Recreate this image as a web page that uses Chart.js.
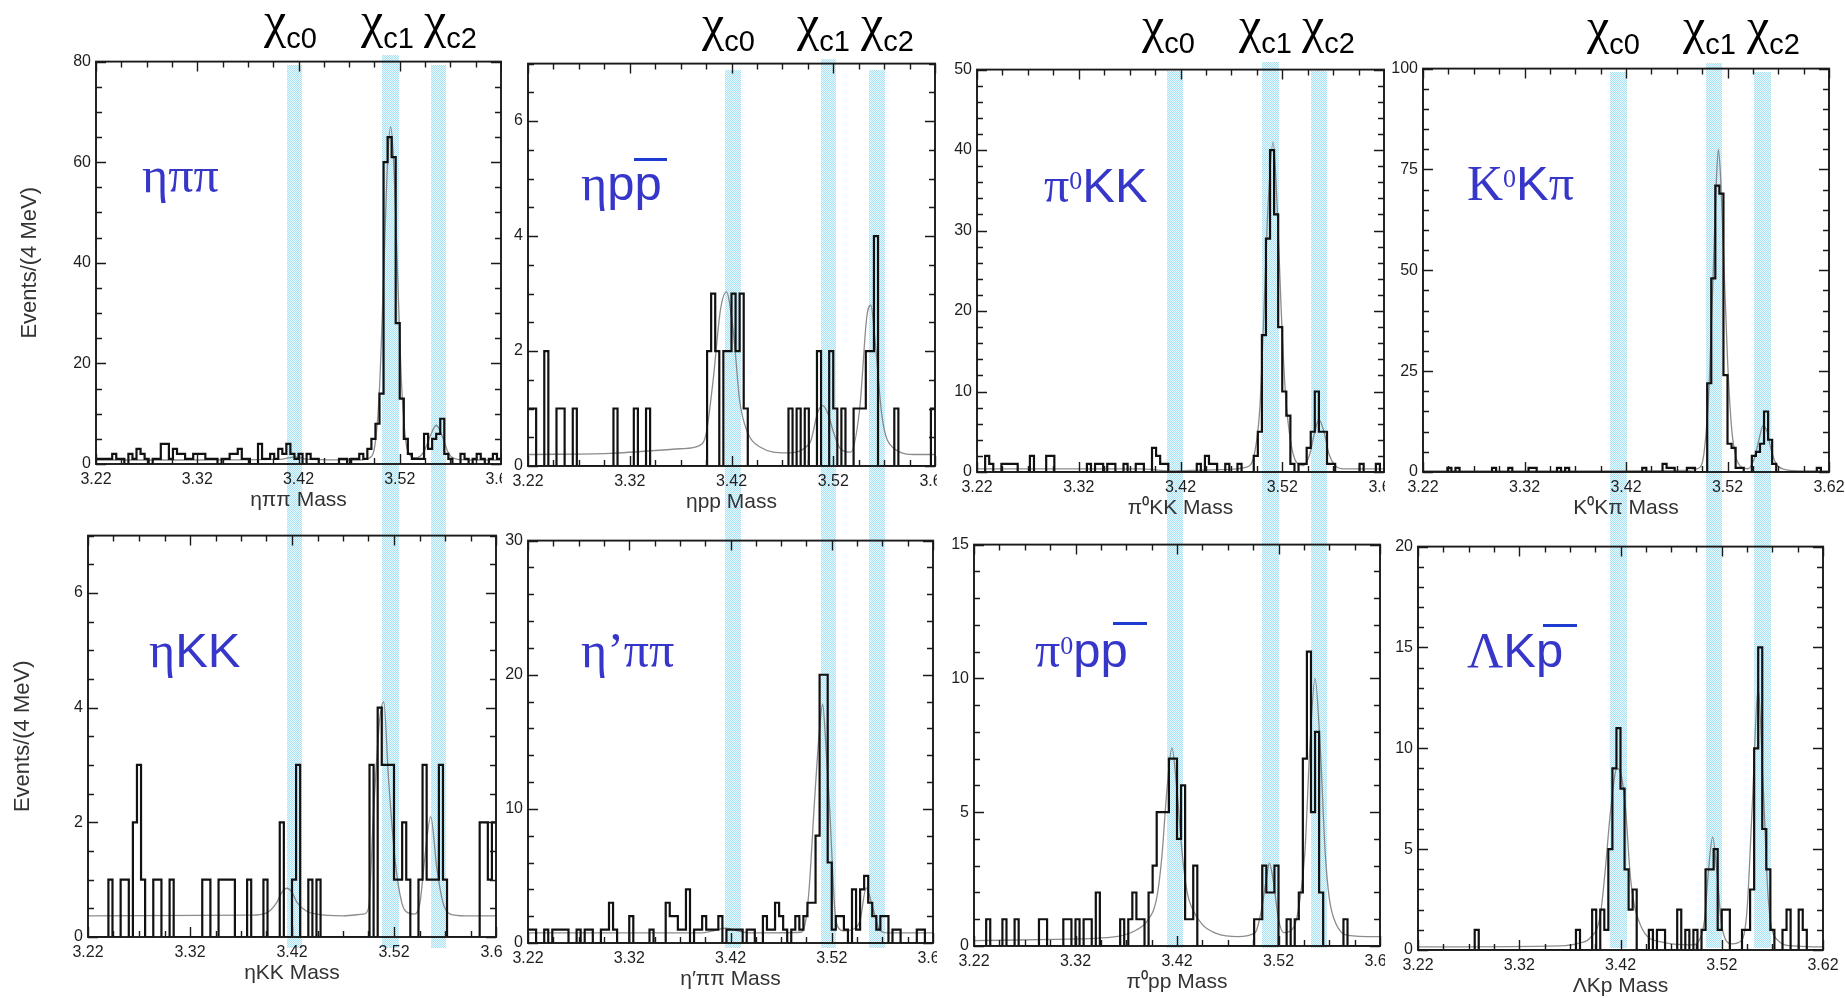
<!DOCTYPE html>
<html><head><meta charset="utf-8">
<script src="https://cdn.jsdelivr.net/npm/chart.js@4.4.1/dist/chart.umd.min.js"></script>
<style>
html,body{margin:0;padding:0;background:#fff;}
body{width:1845px;height:998px;position:relative;overflow:hidden;font-family:"Liberation Sans",Arial,sans-serif;}
canvas{position:absolute;}
#bands{left:0;top:0;z-index:0;}
.chart{z-index:1;}
.lbl{position:absolute;z-index:2;color:#3636c9;white-space:nowrap;line-height:1;font-family:"Liberation Serif","Times New Roman",serif;font-size:50px;}
.sans{font-family:"Liberation Sans",Arial,sans-serif;font-size:49px;}
.sup{font-family:"Liberation Serif","Times New Roman",serif;font-size:26px;vertical-align:13px;}
.chi{position:absolute;z-index:2;white-space:nowrap;line-height:1;color:#000;font-family:"Liberation Serif","Times New Roman",serif;font-size:50px;}
.chi span{font-family:"Liberation Sans",Arial,sans-serif;font-size:29px;vertical-align:-11px;}
.bar{position:absolute;z-index:2;height:3px;background:#1d3ccf;}
</style></head><body>
<canvas id="bands" width="1845" height="998"></canvas>

<div class="chi" style="left:264px;top:-5px">χ<span>c0</span></div>
<div class="chi" style="left:361px;top:-5px">χ<span>c1</span></div>
<div class="chi" style="left:424px;top:-5px">χ<span>c2</span></div>
<div class="chi" style="left:702px;top:-2px">χ<span>c0</span></div>
<div class="chi" style="left:797px;top:-2px">χ<span>c1</span></div>
<div class="chi" style="left:861px;top:-2px">χ<span>c2</span></div>
<div class="chi" style="left:1142px;top:0px">χ<span>c0</span></div>
<div class="chi" style="left:1239px;top:0px">χ<span>c1</span></div>
<div class="chi" style="left:1302px;top:0px">χ<span>c2</span></div>
<div class="chi" style="left:1587px;top:1px">χ<span>c0</span></div>
<div class="chi" style="left:1683px;top:1px">χ<span>c1</span></div>
<div class="chi" style="left:1747px;top:1px">χ<span>c2</span></div>

<div class="lbl" style="left:142px;top:150px">ηππ</div>
<div class="lbl" style="left:581px;top:158px">η<span class="sans">pp</span></div>
<div class="bar" style="left:634px;top:158px;width:33px"></div>
<div class="lbl" style="left:1044px;top:160px">π<span class="sup">0</span><span class="sans">KK</span></div>
<div class="lbl" style="left:1467px;top:158px">K<span class="sup">0</span><span class="sans">K</span>π</div>
<div class="lbl" style="left:149px;top:625px">η<span class="sans">KK</span></div>
<div class="lbl" style="left:581px;top:625px">η’ππ</div>
<div class="lbl" style="left:1035px;top:625px">π<span class="sup">0</span><span class="sans">pp</span></div>
<div class="bar" style="left:1113px;top:622px;width:34px"></div>
<div class="lbl" style="left:1467px;top:625px">Λ<span class="sans">Kp</span></div>
<div class="bar" style="left:1543px;top:624px;width:34px"></div>

<script>
// ---------------- DATA ----------------
const binStart = 3.22;
const binWidth = 0.004;
const massTicks = [3.22, 3.32, 3.42, 3.52, 3.62];
const massLabels = ['3.22', '3.32', '3.42', '3.52', '3.62'];
const massMinorStep = 0.025;

// Events per 4 MeV bin, 3.22 - 3.62 GeV (100 bins)
const etaPiPi = [1,1,1,1,2,1,1,0,2,1, 3,2,1,0,1,1,4,4,1,3, 2,2,1,1,2,2,2,1,1,1, 0,1,1,2,2,3,1,1,0,0,
  4,1,1,2,1,3,2,4,2,1, 2,0,2,1,1,0,0,0,0,0, 1,1,0,1,1,2,1,3,5,8, 14,60,65,61,28,13,5,2,1,1,
  1,6,3,5,6,9,2,1,0,0, 2,1,0,1,2,1,0,1,2,1];
const etaPPbar = [1,1,0,0,2,0,0,1,1,0, 0,1,0,0,0,0,0,0,0,0, 0,1,0,0,0,0,1,0,0,1, 0,0,0,0,0,0,0,0,0,0,
  0,0,0,0,2,3,2,0,2,2, 3,2,3,1,0,0,0,0,0,0, 0,0,0,0,1,0,1,0,1,0, 0,2,0,0,2,1,0,1,0,0,
  1,1,1,2,2,4,0,0,0,0, 1,0,0,0,0,0,0,0,0,1];
const pi0KK = [0,0,2,1,0,0,1,1,1,1, 0,0,0,2,0,0,0,2,2,0, 0,0,0,0,0,0,0,1,0,1, 1,0,1,1,0,0,1,0,0,1,
  1,0,0,3,2,1,1,0,0,0, 0,0,0,0,1,0,2,1,1,0, 0,1,0,0,1,0,0,0,2,5, 17,29,40,32,18,10,7,1,0,1,
  1,3,5,10,5,5,1,1,0,0, 0,0,0,0,1,0,0,0,1,0];
const k0KPi = [0,0,0,0,0,0,1,0,1,0, 0,0,0,0,0,0,0,1,0,0, 0,1,0,0,0,0,1,1,0,0, 0,0,0,1,0,1,0,0,0,0,
  0,0,0,0,0,0,0,0,0,0, 0,0,0,0,1,0,0,0,0,2, 1,1,0,0,0,1,1,0,0,0, 22,48,71,69,24,7,6,1,1,0,
  0,4,5,7,15,8,2,0,0,0, 0,0,0,0,0,0,0,1,0,0];
const etaKK = [0,0,0,0,0,1,0,0,1,1, 0,2,3,1,0,0,1,1,0,0, 1,0,0,0,0,0,0,0,1,1, 0,0,1,1,1,1,0,0,0,1,
  0,0,0,1,0,0,0,2,0,0, 1,3,0,0,1,0,1,0,0,0, 0,0,0,0,0,0,0,0,0,3, 0,4,3,3,3,1,1,2,1,0,
  0,1,3,1,1,1,3,1,0,0, 0,0,0,0,0,0,2,2,1,2];
const etaPrimePiPi = [1,1,0,0,1,0,1,1,1,1, 0,0,1,0,1,1,0,0,1,1, 3,1,0,0,0,2,0,0,0,0, 1,0,0,0,3,2,2,1,1,4,
  0,1,1,2,1,1,1,2,0,1, 1,1,1,0,1,1,0,0,2,1, 1,3,2,1,0,1,2,1,2,3, 3,8,20,20,6,1,2,2,1,0,
  4,1,4,5,3,2,1,2,2,0, 1,1,0,0,0,0,1,1,0,0];
const pi0PPbar = [0,0,0,1,0,0,0,1,0,0, 1,0,0,0,0,0,1,1,0,0, 0,0,1,1,0,1,0,1,1,0, 2,0,0,0,0,0,1,0,1,2,
  1,1,0,2,3,5,5,5,7,7, 4,6,1,1,3,0,0,0,0,0, 0,0,0,0,0,0,0,0,0,1, 1,3,2,2,3,0,0,1,0,1,
  2,7,11,5,8,2,0,0,0,0, 0,1,0,0,0,0,0,0,0,0];
const lambdaKPbar = [0,0,0,0,0,0,0,0,0,0, 0,0,0,0,1,0,0,0,0,0, 0,0,0,0,0,0,0,0,0,0, 0,0,0,0,0,0,0,0,0,1,
  0,0,0,2,0,2,1,5,9,11, 8,4,2,3,0,0,0,1,0,1, 1,0,0,0,2,0,1,0,1,0, 1,4,4,5,1,2,2,0,0,0,
  1,1,3,10,15,6,4,1,0,0, 1,2,0,0,2,1,0,0,0,0];

// Fit curves (mass, events)
const fitEtaPiPiX = [3.22,3.30,3.40,3.41,3.416,3.422,3.43,3.48,3.49,3.496,3.500,3.504,3.508,3.511,3.514,3.518,3.522,3.526,3.530,3.536,3.544,3.550,3.556,3.562,3.568,3.575,3.59,3.62];
const fitEtaPiPiY = [0.8,0.8,0.9,1.2,1.4,1.2,0.9,0.8,1.2,4.5,15,37,60,67,60,37,15,4.5,1.8,1.2,2.5,5.5,7.7,5.5,2.2,1.0,0.8,0.8];
const fitEtaPPbarX = [3.22,3.30,3.37,3.389,3.395,3.402,3.409,3.415,3.422,3.428,3.435,3.448,3.474,3.497,3.505,3.510,3.515,3.520,3.527,3.537,3.546,3.553,3.557,3.561,3.568,3.578,3.602,3.62];
const fitEtaPPbarY = [0.2,0.22,0.3,0.36,0.56,1.5,2.7,3.03,2.3,1.14,0.62,0.33,0.23,0.4,0.95,1.05,0.9,0.6,0.3,0.24,1.0,2.6,2.8,2.2,0.85,0.33,0.2,0.2];
const fitPi0KKX = [3.22,3.38,3.41,3.43,3.46,3.485,3.493,3.498,3.502,3.506,3.511,3.515,3.519,3.523,3.528,3.534,3.541,3.547,3.552,3.556,3.561,3.566,3.572,3.58,3.62];
const fitPi0KKY = [0.4,0.4,0.15,0.2,0.3,0.6,2.5,8,20,33,41,33,20,10,4,1.2,0.8,2.2,5,6.5,5,2.2,0.8,0.4,0.4];
const fitK0KPiX = [3.22,3.40,3.48,3.492,3.497,3.502,3.506,3.509,3.511,3.513,3.516,3.52,3.524,3.528,3.534,3.54,3.546,3.551,3.555,3.559,3.563,3.568,3.575,3.59,3.62];
const fitK0KPiY = [0.3,0.3,0.4,1,5,22,50,72,80,74,55,28,11,4,1.2,0.8,3,8,11.5,10,5.5,2,0.7,0.3,0.3];
const fitEtaKKX = [3.22,3.38,3.395,3.405,3.41,3.415,3.42,3.425,3.4345,3.444,3.47,3.49,3.495,3.500,3.506,3.510,3.5145,3.521,3.5276,3.534,3.54,3.5455,3.55,3.556,3.562,3.568,3.575,3.59,3.62];
const fitEtaKKY = [0.37,0.38,0.42,0.6,0.78,0.85,0.78,0.6,0.45,0.4,0.37,0.4,0.5,2.2,3.8,4.1,2.8,1.35,0.6,0.42,0.4,0.6,1.35,2.1,1.2,0.6,0.4,0.37,0.37];
const fitEtaPrimePiPiX = [3.22,3.39,3.405,3.415,3.425,3.44,3.49,3.495,3.498,3.503,3.508,3.511,3.514,3.518,3.523,3.526,3.532,3.54,3.548,3.554,3.561,3.567,3.575,3.62];
const fitEtaPrimePiPiY = [0.75,0.75,0.95,1.1,0.95,0.75,0.8,2,4.4,10.6,16,17.8,15,9.9,2.5,1.2,0.9,1.0,1.7,4.1,2.5,1.0,0.75,0.75];
const fitPi0PPbarX = [3.22,3.30,3.36,3.38,3.39,3.40,3.405,3.41,3.415,3.42,3.425,3.43,3.435,3.445,3.46,3.48,3.497,3.503,3.508,3.511,3.515,3.52,3.525,3.535,3.541,3.546,3.551,3.556,3.561,3.566,3.570,3.577,3.588,3.62];
const fitPi0PPbarY = [0.2,0.25,0.35,0.6,0.9,1.8,3.3,5.8,7.4,5.8,3.5,2.0,1.4,0.8,0.45,0.35,0.5,1.3,2.5,3.1,2.4,1.0,0.5,0.7,1.7,3.5,7.5,10,7.5,3.5,1.8,0.8,0.4,0.35];
const fitLambdaKPbarX = [3.22,3.36,3.38,3.39,3.40,3.405,3.41,3.4165,3.42,3.425,3.43,3.44,3.46,3.49,3.498,3.503,3.507,3.511,3.515,3.52,3.53,3.54,3.545,3.55,3.556,3.561,3.566,3.575,3.59,3.62];
const fitLambdaKPbarY = [0.15,0.2,0.35,0.6,1.7,4,6.8,9,8.8,7,3.5,1.2,0.4,0.25,0.5,1.5,4,5.6,4,1.2,0.3,0.5,2,7,13,8,2.5,0.5,0.2,0.15];

// y axis: labelled ticks, minor tick step
const yTicksEtaPiPi = [0,20,40,60,80];
const yTicksEtaPPbar = [0,2,4,6];
const yTicksPi0KK = [0,10,20,30,40,50];
const yTicksK0KPi = [0,25,50,75,100];
const yTicksEtaKK = [0,2,4,6];
const yTicksEtaPrimePiPi = [0,10,20,30];
const yTicksPi0PPbar = [0,5,10,15];
const yTicksLambdaKPbar = [0,5,10,15,20];
const yMaxes = [80,7,50,100,7,30,15,20];
const yMinorSteps = [5,0.5,2,5,0.5,2,1,1];

const massTitles = ['ηππ Mass','ηpp Mass','π⁰KK Mass','K⁰Kπ Mass','ηKK Mass','η′ππ Mass','π⁰pp Mass','ΛKp Mass'];
const yAxisTitle = 'Events/(4 MeV)';

// chi_cJ bands (mass ranges), one set per column
const bandRanges = [
  [[3.4086,3.4235],[3.5025,3.5193],[3.5509,3.5657]],
  [[3.4136,3.4290],[3.5080,3.5227],[3.5554,3.5710]],
  [[3.4064,3.4217],[3.5001,3.5171],[3.5480,3.5637]],
  [[3.4042,3.4207],[3.4989,3.5149],[3.5461,3.5626]]
];

// ---------------- LAYOUT ----------------
const plotRects = [
  [96,59,501,464],[528,61,935,466],[977,67,1384,472],[1423,66,1829,472],
  [88,533,496,937],[528,538,933,943],[974,542,1380,946],[1418,544,1823,950]
];
// right margin of each panel (panels that sit next to another panel are cut off close to their frame)
const rightMargins = [1,2,1,15,6,4,5,20];
const bandTops = [[65,55,65],[70,59,70],[71,62,71],[72,63,72]];
const bandBottom = 948;

const panels = [
  {counts: etaPiPi, fx: fitEtaPiPiX, fy: fitEtaPiPiY, yTicks: yTicksEtaPiPi, yTitlePad: 17},
  {counts: etaPPbar, fx: fitEtaPPbarX, fy: fitEtaPPbarY, yTicks: yTicksEtaPPbar},
  {counts: pi0KK, fx: fitPi0KKX, fy: fitPi0KKY, yTicks: yTicksPi0KK},
  {counts: k0KPi, fx: fitK0KPiX, fy: fitK0KPiY, yTicks: yTicksK0KPi},
  {counts: etaKK, fx: fitEtaKKX, fy: fitEtaKKY, yTicks: yTicksEtaKK, yTitlePad: 10},
  {counts: etaPrimePiPi, fx: fitEtaPrimePiPiX, fy: fitEtaPrimePiPiY, yTicks: yTicksEtaPrimePiPi},
  {counts: pi0PPbar, fx: fitPi0PPbarX, fy: fitPi0PPbarY, yTicks: yTicksPi0PPbar},
  {counts: lambdaKPbar, fx: fitLambdaKPbarX, fy: fitLambdaKPbarY, yTicks: yTicksLambdaKPbar}
];

const FONT = "'Liberation Sans', Arial, Helvetica, sans-serif";

function makeChart(i) {
  const P = panels[i];
  const [L, T, R, B] = plotRects[i];
  const hasYTitle = P.yTitlePad !== undefined;
  const yw = hasYTitle ? L : 44;
  const pt = 12, pr = rightMargins[i], xh = 49;
  const cv = document.createElement('canvas');
  cv.className = 'chart';
  cv.width = (R - L) + yw + pr;
  cv.height = (B - T) + pt + xh;
  cv.style.left = (L - yw) + 'px';
  cv.style.top = (T - pt) + 'px';
  document.body.appendChild(cv);

  const histPts = P.counts.map((v, k) => ({x: binStart + k * binWidth, y: v}));
  histPts.push({x: binStart + P.counts.length * binWidth, y: P.counts[P.counts.length - 1]});
  const fitPts = P.fx.map((x, k) => ({x: x, y: P.fy[k]}));
  const yMax = yMaxes[i], yMinor = yMinorSteps[i];

  const framePlugin = {
    id: 'frame' + i,
    afterDraw(chart) {
      const {ctx, chartArea: a, scales: {x, y}} = chart;
      ctx.save();
      ctx.strokeStyle = '#1a1a1a';
      ctx.lineWidth = 1.4;
      const nX = Math.round((massTicks[massTicks.length - 1] - massTicks[0]) / massMinorStep);
      for (let k = 0; k <= nX; k++) {
        const px = Math.round(x.getPixelForValue(massTicks[0] + k * massMinorStep)) + 0.5;
        const len = (k % 4 === 0) ? 10 : 6;
        ctx.beginPath();
        ctx.moveTo(px, a.bottom); ctx.lineTo(px, a.bottom - len);
        ctx.moveTo(px, a.top); ctx.lineTo(px, a.top + len);
        ctx.stroke();
      }
      const majorStep = P.yTicks[1] - P.yTicks[0];
      const nY = Math.round(yMax / yMinor);
      for (let k = 0; k <= nY; k++) {
        const v = k * yMinor;
        const py = Math.round(y.getPixelForValue(v)) + 0.5;
        const r = v / majorStep;
        const len = Math.abs(r - Math.round(r)) < 1e-6 ? 10 : 6;
        ctx.beginPath();
        ctx.moveTo(a.left, py); ctx.lineTo(a.left + len, py);
        ctx.moveTo(a.right, py); ctx.lineTo(a.right - len, py);
        ctx.stroke();
      }
      ctx.lineWidth = 1.9;
      ctx.strokeRect(a.left, a.top, a.right - a.left, a.bottom - a.top);
      ctx.restore();
    }
  };

  return new Chart(cv, {
    type: 'line',
    data: {datasets: [
      {data: fitPts, borderColor: 'rgba(120,120,120,0.85)', borderWidth: 1.3, pointRadius: 0,
       cubicInterpolationMode: 'monotone', order: 2, fill: false},
      {data: histPts, borderColor: '#111', borderWidth: 2.2, pointRadius: 0, stepped: true, order: 1, fill: false}
    ]},
    options: {
      responsive: false, animation: false, events: [],
      layout: {padding: {left: 0, top: pt, right: pr, bottom: 0}},
      plugins: {legend: {display: false}, tooltip: {enabled: false}},
      scales: {
        x: {
          type: 'linear', min: massTicks[0], max: massTicks[massTicks.length - 1],
          grid: {display: false, drawTicks: false}, border: {display: false},
          afterBuildTicks: s => { s.ticks = massTicks.map(v => ({value: v})); },
          ticks: {callback: (v, idx) => massLabels[idx], font: {size: 16, family: FONT}, color: '#1e1e1e',
                  padding: 6, maxRotation: 0, autoSkip: false},
          title: {display: true, text: massTitles[i], font: {size: 21, family: FONT}, color: '#333', padding: 0},
          afterFit: s => { s.height = xh; s.paddingRight = 0; s.paddingLeft = 0; }
        },
        y: {
          type: 'linear', min: 0, max: yMax,
          grid: {display: false, drawTicks: false}, border: {display: false},
          afterBuildTicks: s => { s.ticks = P.yTicks.map(v => ({value: v})); },
          ticks: {callback: v => String(v), font: {size: 16, family: FONT}, color: '#1e1e1e', padding: 5, autoSkip: false},
          title: hasYTitle ? {display: true, text: yAxisTitle, font: {size: 22, family: FONT}, color: '#333',
                  padding: {top: P.yTitlePad, bottom: 0}} : {display: false},
          afterFit: s => { s.width = yw; }
        }
      }
    },
    plugins: [framePlugin]
  });
}

const charts = panels.map((p, i) => makeChart(i));

// bands, positioned through the top chart's mass scale in each column
(function drawBands() {
  const bc = document.getElementById('bands').getContext('2d');
  const pc = document.createElement('canvas');
  pc.width = 2; pc.height = 2;
  const pctx = pc.getContext('2d');
  pctx.fillStyle = '#e8f8fd'; pctx.fillRect(0, 0, 2, 2);
  pctx.fillStyle = '#a8e2f4'; pctx.fillRect(0, 0, 1, 1); pctx.fillRect(1, 1, 1, 1);
  bc.fillStyle = bc.createPattern(pc, 'repeat');
  bandRanges.forEach((col, c) => {
    const ch = charts[c];
    const off = parseFloat(ch.canvas.style.left);
    col.forEach(([lo, hi], j) => {
      const x0 = off + ch.scales.x.getPixelForValue(lo);
      const x1 = off + ch.scales.x.getPixelForValue(hi);
      bc.fillRect(Math.round(x0), bandTops[c][j], Math.round(x1 - x0), bandBottom - bandTops[c][j]);
    });
  });
})();
</script>
</body></html>
